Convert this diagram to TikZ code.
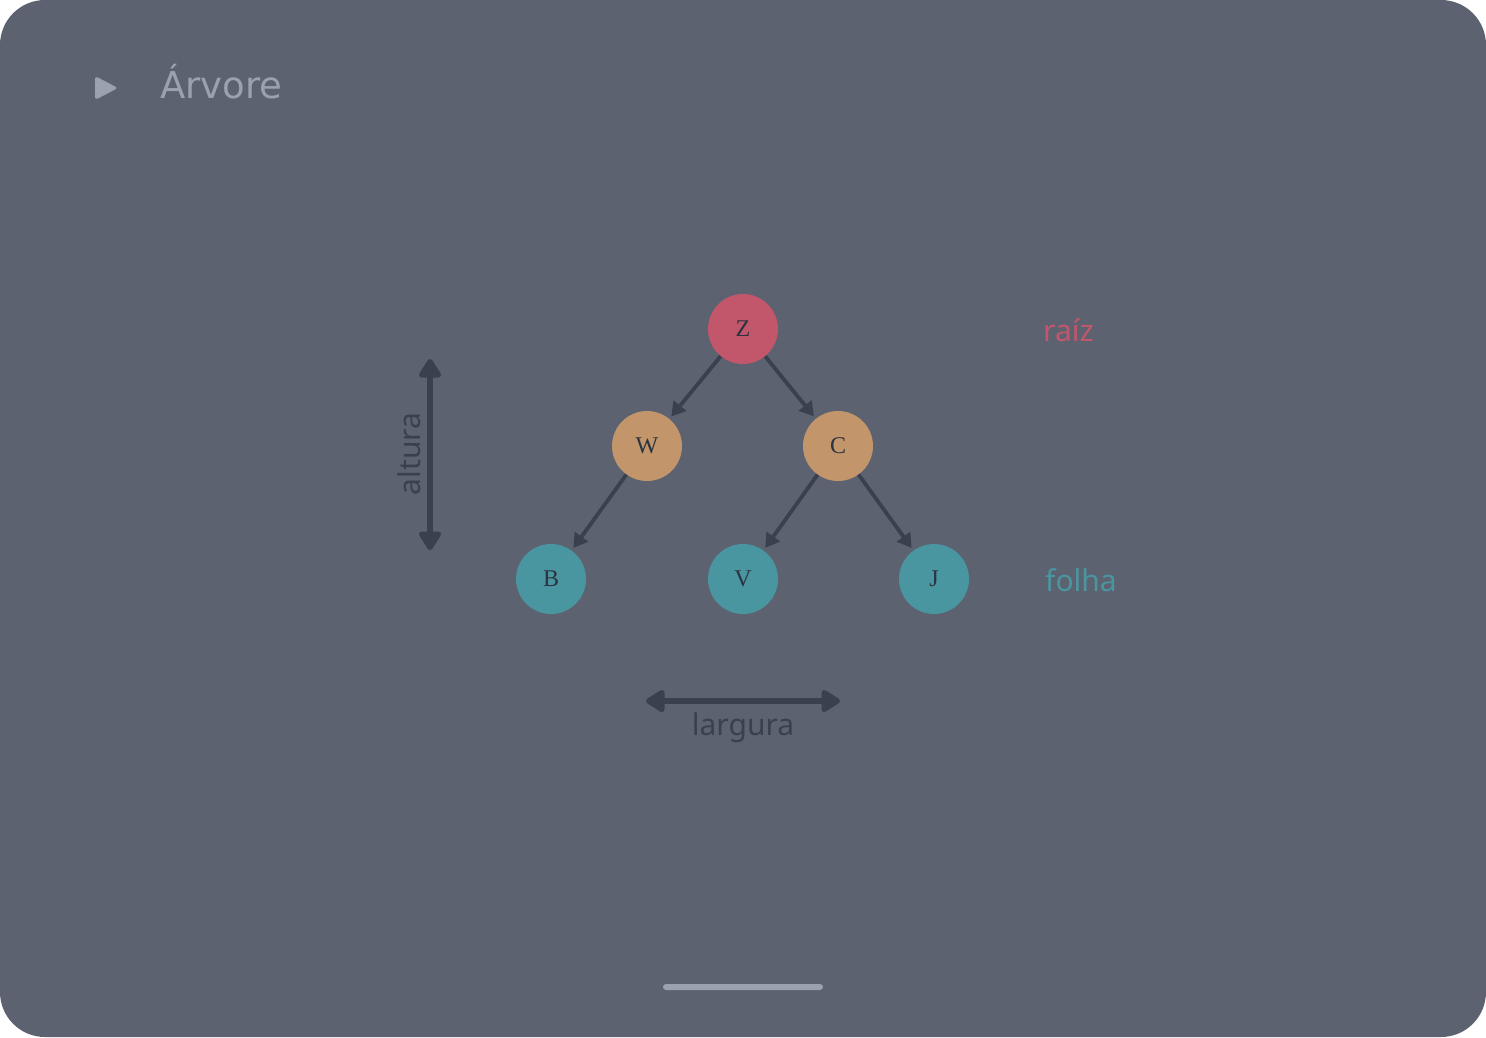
\documentclass[tikz,border=0pt]{standalone}
\usepackage{fontspec}
\setmainfont{Liberation Serif}
\newfontfamily\titlefont{DejaVu Sans}
\newfontfamily\labelfont{Noto Sans}
\usetikzlibrary{arrows.meta}
\definecolor{bg}{HTML}{5C6270}
\definecolor{titlec}{HTML}{9BA1AE}
\definecolor{rootc}{HTML}{C2566B}
\definecolor{midc}{HTML}{C2956A}
\definecolor{leafc}{HTML}{4A96A0}
\definecolor{darkc}{HTML}{3A404D}
\definecolor{nodetext}{HTML}{2C3340}
\tikzset{
  treenode/.style={circle, minimum size=70pt, inner sep=0pt, font=\fontsize{24pt}{24pt}\selectfont, text=nodetext},
  rootnode/.style={treenode, fill=rootc},
  midnode/.style={treenode, fill=midc},
  leafnode/.style={treenode, fill=leafc},
  edge/.style={draw=darkc, line width=3.8pt, -{Triangle[length=14pt,width=16pt]}, shorten >=3pt},
  dim/.style={draw=darkc, line width=5.5pt, {Triangle[length=21pt,width=25pt,round]}-{Triangle[length=21pt,width=25pt,round]}},
  sidelabel/.style={font=\labelfont\fontsize{30pt}{30pt}\selectfont, inner sep=0pt},
}
\begin{document}
\begin{tikzpicture}[x=1pt,y=-1pt]
\useasboundingbox (0,0) rectangle (1486,1037);
\fill[white] (0,0) rectangle (1486,1037);
\fill[bg, rounded corners=45pt] (0,0) rectangle (1486,1037);
% title
\fill[titlec, rounded corners=3pt] (95,76) -- (118,88) -- (95,100) -- cycle;
\node[anchor=base west, inner sep=0pt, text=titlec, font=\titlefont\fontsize{37pt}{37pt}\selectfont] (title) at (160,98) {Árvore};
% nodes
\node[rootnode] (Z) at (743,329) {Z};
\node[midnode] (W) at (647,446) {W};
\node[midnode] (C) at (838,446) {C};
\node[leafnode] (B) at (551,579) {B};
\node[leafnode] (V) at (743,579) {V};
\node[leafnode] (J) at (934,579) {J};
% edges
\draw[edge] (Z) -- (W);
\draw[edge] (Z) -- (C);
\draw[edge] (W) -- (B);
\draw[edge] (C) -- (V);
\draw[edge] (C) -- (J);
% side labels
\node[sidelabel, text=rootc, anchor=base west] (raiz) at (1043,341) {raíz};
\node[sidelabel, text=leafc, anchor=base west] (folha) at (1045,591) {folha};
% dimension arrows
\coordinate (atop) at (430,359);
\coordinate (abot) at (430,550);
\draw[dim] (atop) -- (abot);
\node[sidelabel, text=darkc, rotate=90] (altura) at (409,454) {altura};
\coordinate (lleft) at (646,701);
\coordinate (lright) at (840,701);
\draw[dim] (lleft) -- (lright);
\node[sidelabel, text=darkc, anchor=base] (largura) at (743,735) {largura};
% home bar
\fill[titlec, rounded corners=3pt] (663,984) rectangle (823,990);
\end{tikzpicture}
\end{document}
